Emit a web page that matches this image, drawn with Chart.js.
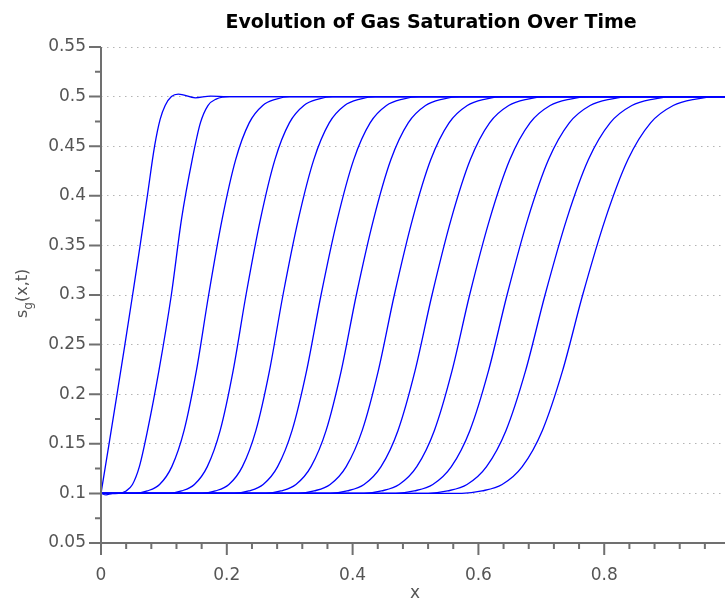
<!DOCTYPE html>
<html><head><meta charset="utf-8">
<script src="https://cdn.jsdelivr.net/npm/chart.js@4.4.1/dist/chart.umd.min.js"></script>
<style>html,body{margin:0;padding:0;background:#fff;overflow:hidden}canvas{display:block}</style>
</head><body>
<canvas id="c" width="725" height="601"></canvas>
<script>
const chartTitle = 'Evolution of Gas Saturation Over Time';
const xAxisTitle = 'x';
const yTitleMain = 's', yTitleSub = 'g', yTitleRest = '(x,t)';

const xMajorTicks = [0, 0.2, 0.4, 0.6, 0.8];
const xTickLabels = ['0', '0.2', '0.4', '0.6', '0.8'];
const xMinorTicks = [0.04, 0.08, 0.12, 0.16, 0.24, 0.28, 0.32, 0.36, 0.44, 0.48, 0.52, 0.56, 0.64, 0.68, 0.72, 0.76, 0.84, 0.88, 0.92, 0.96];
const yMajorTicks = [0.05, 0.1, 0.15, 0.2, 0.25, 0.3, 0.35, 0.4, 0.45, 0.5, 0.55];
const yTickLabels = ['0.05', '0.1', '0.15', '0.2', '0.25', '0.3', '0.35', '0.4', '0.45', '0.5', '0.55'];
const yMinorTicks = [0.075, 0.125, 0.175, 0.225, 0.275, 0.325, 0.375, 0.425, 0.475, 0.525];

// earliest profile (read point by point)
const curve1X = [0, 0.0128, 0.0255, 0.038, 0.0502, 0.0622, 0.0737, 0.0852, 0.094, 0.102, 0.112, 0.123, 0.150, 0.174, 0.200, 0.230, 1];
const curve1Y = [0.1, 0.15, 0.2, 0.25, 0.3, 0.35, 0.4, 0.45, 0.477, 0.491, 0.5, 0.5025, 0.4988, 0.5005, 0.4999, 0.5, 0.5];
// second profile
const curve2X = [0, 0.008, 0.018, 0.028, 0.040, 0.050, 0.061, 0.074, 0.092, 0.1118, 0.128, 0.145, 0.158, 0.170, 0.183, 0.205, 1];
const curve2Y = [0.1, 0.0985, 0.0998, 0.1, 0.1025, 0.109, 0.127, 0.1635, 0.2235, 0.3, 0.3765, 0.4365, 0.4735, 0.491, 0.4975, 0.5, 0.5];

// later profiles: x position where each profile reaches each saturation level
const levels = [0.1, 0.1025, 0.109, 0.127, 0.1635, 0.2235, 0.3, 0.3765, 0.4365, 0.4735, 0.491, 0.4975, 0.5];
const front03 = [0.0541, 0.0736, 0.0931, 0.1126, 0.1321, 0.1516, 0.1711, 0.1926, 0.2141, 0.2356, 0.2571, 0.2786, 0.3001];
const front04 = [0.1075, 0.1280, 0.1485, 0.1690, 0.1895, 0.2100, 0.2305, 0.2535, 0.2765, 0.2995, 0.3225, 0.3455, 0.3685];
const front05 = [0.1603, 0.1818, 0.2033, 0.2248, 0.2463, 0.2678, 0.2893, 0.3138, 0.3383, 0.3628, 0.3873, 0.4118, 0.4363];
const front06 = [0.2118, 0.2348, 0.2578, 0.2808, 0.3038, 0.3268, 0.3498, 0.3758, 0.4018, 0.4278, 0.4538, 0.4798, 0.5058];
const front07 = [0.2619, 0.2859, 0.3099, 0.3339, 0.3579, 0.3819, 0.4059, 0.4334, 0.4609, 0.4884, 0.5159, 0.5434, 0.5709];
const front08 = [0.3133, 0.3388, 0.3643, 0.3898, 0.4153, 0.4408, 0.4663, 0.4953, 0.5243, 0.5533, 0.5823, 0.6113, 0.6403];
const front09 = [0.3642, 0.3912, 0.4182, 0.4452, 0.4722, 0.4992, 0.5262, 0.5567, 0.5872, 0.6177, 0.6482, 0.6787, 0.7092];
const front10 = [0.4180, 0.4460, 0.4740, 0.5020, 0.5300, 0.5580, 0.5860, 0.6180, 0.6500, 0.6820, 0.7140, 0.7460, 0.7780];
const front11 = [0.4685, 0.4980, 0.5275, 0.5570, 0.5865, 0.6160, 0.6455, 0.6785, 0.7115, 0.7445, 0.7775, 0.8105, 0.8435];
const front12 = [0.5199, 0.5509, 0.5819, 0.6129, 0.6439, 0.6749, 0.7059, 0.7404, 0.7749, 0.8094, 0.8439, 0.8784, 0.9129];
const front13 = [0.5737, 0.6057, 0.6377, 0.6697, 0.7017, 0.7337, 0.7657, 0.8017, 0.8377, 0.8737, 0.9097, 0.9457, 0.9817];
const fronts = [front03, front04, front05, front06, front07, front08, front09, front10, front11, front12, front13];

const xDomainEnd = 0.992;

const lineStyle = {
  borderColor: '#0000ff', borderWidth: 1.3, pointRadius: 0, fill: false,
  cubicInterpolationMode: 'monotone'
};
const datasets = [];
datasets.push(Object.assign({ data: curve1X.map((x, i) => ({ x, y: curve1Y[i] })) }, lineStyle));
datasets.push(Object.assign({ data: curve2X.map((x, i) => ({ x, y: curve2Y[i] })) }, lineStyle));
fronts.forEach(f => {
  const pts = [{ x: 0, y: 0.1 }].concat(levels.map((L, i) => ({ x: f[i], y: L }))).concat([{ x: 1, y: 0.5 }]);
  datasets.push(Object.assign({ data: pts }, lineStyle));
});

const textColor = '#555555';
const axisColor = '#707070';

const decor = {
  id: 'decor',
  afterDraw(chart) {
    const { ctx, chartArea: a, scales } = chart;
    const xs = scales.x, ys = scales.y;
    ctx.save();
    ctx.strokeStyle = axisColor;
    ctx.lineWidth = 2;
    ctx.beginPath();
    ctx.moveTo(a.left, a.top); ctx.lineTo(a.left, a.bottom + 1);
    ctx.moveTo(a.left - 1, a.bottom); ctx.lineTo(chart.width, a.bottom);
    xMajorTicks.forEach(v => { const p = xs.getPixelForValue(v); ctx.moveTo(p, a.bottom); ctx.lineTo(p, a.bottom + 12); });
    xMinorTicks.forEach(v => { const p = xs.getPixelForValue(v); ctx.moveTo(p, a.bottom); ctx.lineTo(p, a.bottom + 6); });
    yMajorTicks.forEach(v => { const p = ys.getPixelForValue(v); ctx.moveTo(a.left, p); ctx.lineTo(a.left - 12, p); });
    yMinorTicks.forEach(v => { const p = ys.getPixelForValue(v); ctx.moveTo(a.left, p); ctx.lineTo(a.left - 6, p); });
    ctx.stroke();

    // chart title
    ctx.fillStyle = '#000';
    ctx.font = 'bold 19px "DejaVu Sans"';
    ctx.textAlign = 'center';
    ctx.textBaseline = 'alphabetic';
    ctx.fillText(chartTitle, 431, 28);

    // x axis title
    ctx.fillStyle = textColor;
    ctx.font = '17px "DejaVu Sans"';
    ctx.fillText(xAxisTitle, 415, 598);

    // y axis title with subscript
    ctx.save();
    ctx.translate(27, 318);
    ctx.rotate(-Math.PI / 2);
    ctx.textAlign = 'left';
    ctx.font = '16px "DejaVu Sans"';
    ctx.fillText(yTitleMain, 0, 0);
    let w = ctx.measureText(yTitleMain).width;
    ctx.font = '12px "DejaVu Sans"';
    ctx.fillText(yTitleSub, w, 5);
    w += ctx.measureText(yTitleSub).width;
    ctx.font = '16px "DejaVu Sans"';
    ctx.fillText(yTitleRest, w, 0);
    ctx.restore();
    ctx.restore();
  }
};

new Chart(document.getElementById('c'), {
  type: 'line',
  data: { datasets },
  options: {
    responsive: false,
    animation: false,
    devicePixelRatio: 1,
    layout: { padding: { top: 47, right: 0, left: 0, bottom: 0 } },
    plugins: { legend: { display: false }, title: { display: false }, tooltip: { enabled: false } },
    scales: {
      x: {
        type: 'linear', min: 0, max: xDomainEnd,
        afterBuildTicks: s => { s.ticks = xMajorTicks.map(v => ({ value: v })); },
        afterFit: s => { s.height = 58; },
        ticks: {
          autoSkip: false, maxRotation: 0, padding: 22, color: textColor,
          font: { family: 'DejaVu Sans', size: 17 },
          callback: (v, i) => xTickLabels[i]
        },
        grid: { display: false, drawTicks: false },
        border: { display: false }
      },
      y: {
        type: 'linear', min: 0.05, max: 0.55,
        afterBuildTicks: s => { s.ticks = yMajorTicks.map(v => ({ value: v })); },
        afterFit: s => { s.width = 101; },
        ticks: {
          autoSkip: false, padding: 15, color: textColor,
          font: { family: 'DejaVu Sans', size: 17 },
          callback: (v, i) => yTickLabels[i]
        },
        grid: {
          drawTicks: false, lineWidth: 1,
          color: c => (c.tick && c.tick.value > 0.06) ? '#b4b4b4' : 'rgba(0,0,0,0)'
        },
        border: { display: false, dash: [1.5, 4.5] }
      }
    }
  },
  plugins: [decor]
});
</script>
</body></html>
